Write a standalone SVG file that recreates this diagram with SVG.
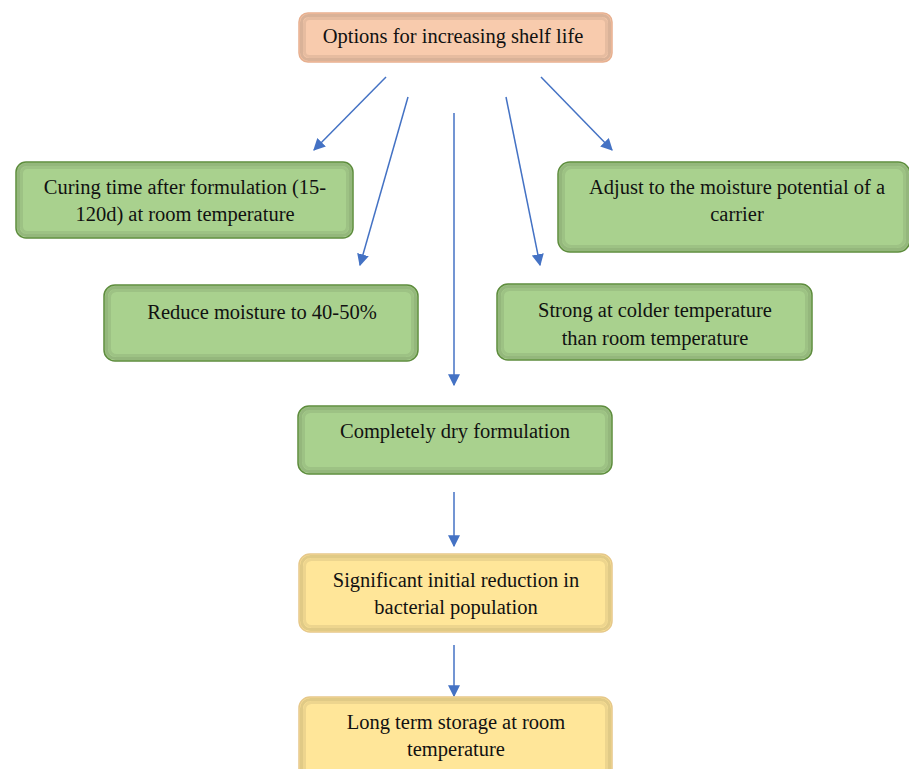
<svg xmlns="http://www.w3.org/2000/svg" width="909" height="769" viewBox="0 0 909 769">
<style>
text{font-family:'Liberation Serif','Times New Roman','DejaVu Serif',serif;font-size:20.5px;fill:#111;text-anchor:middle}
.g{fill:#A9D18E;stroke:#5E8C3E;stroke-width:1.5}
.p{fill:#F8CBAD;stroke:#E7B090;stroke-width:1.5}
.y{fill:#FFE699;stroke:#E6C88A;stroke-width:1.5}
.s1{fill:none;stroke:#000;stroke-opacity:0.12;stroke-width:3}
.s2{fill:none;stroke:#000;stroke-opacity:0.07;stroke-width:3}
.c{stroke:#4472C4;stroke-width:1.5;fill:none;marker-end:url(#ah)}
</style>
<defs>
<marker id="ah" viewBox="0 0 10 10" refX="9" refY="5" markerWidth="12" markerHeight="12" markerUnits="userSpaceOnUse" orient="auto">
<path d="M0,0 L10,5 L0,10 z" fill="#4472C4"/>
</marker>
</defs>
<rect width="909" height="769" fill="#fff"/>
<g id="connectors">
<line class="c" x1="386" y1="77" x2="314" y2="150"/>
<line class="c" x1="408" y1="97" x2="360" y2="265"/>
<line class="c" x1="454" y1="113" x2="454" y2="385"/>
<line class="c" x1="506" y1="97" x2="540" y2="265"/>
<line class="c" x1="541" y1="77" x2="612" y2="150"/>
<line class="c" x1="454" y1="492" x2="454" y2="546"/>
<line class="c" x1="454" y1="645" x2="454" y2="696"/>
</g>
<g id="n-top"><rect class="p" x="299" y="13" width="313" height="49" rx="9"/><rect class="s1" x="301.5" y="15.5" width="308" height="44" rx="7"/><rect class="s2" x="304.5" y="18.5" width="302" height="38" rx="5"/><text x="453" y="43">Options for increasing shelf life</text></g>
<g id="n-curing"><rect class="g" x="16" y="162" width="337" height="76" rx="10"/><rect class="s1" x="18.5" y="164.5" width="332" height="71" rx="8"/><rect class="s2" x="21.5" y="167.5" width="326" height="65" rx="6"/><text x="185" y="194">Curing time after formulation (15-</text><text x="185" y="221">120d) at room temperature</text></g>
<g id="n-adjust"><rect class="g" x="558" y="162" width="352" height="90" rx="12"/><rect class="s1" x="560.5" y="164.5" width="347" height="85" rx="10"/><rect class="s2" x="563.5" y="167.5" width="341" height="79" rx="8"/><text x="737" y="194">Adjust to the moisture potential of a</text><text x="737" y="221">carrier</text></g>
<g id="n-reduce"><rect class="g" x="104" y="285" width="314" height="76" rx="11"/><rect class="s1" x="106.5" y="287.5" width="309" height="71" rx="9"/><rect class="s2" x="109.5" y="290.5" width="303" height="65" rx="7"/><text x="262" y="319">Reduce moisture to 40-50%</text></g>
<g id="n-strong"><rect class="g" x="497" y="284" width="315" height="76" rx="11"/><rect class="s1" x="499.5" y="286.5" width="310" height="71" rx="9"/><rect class="s2" x="502.5" y="289.5" width="304" height="65" rx="7"/><text x="655" y="317">Strong at colder temperature</text><text x="655" y="345">than room temperature</text></g>
<g id="n-dry"><rect class="g" x="298" y="406" width="314" height="68" rx="11"/><rect class="s1" x="300.5" y="408.5" width="309" height="63" rx="9"/><rect class="s2" x="303.5" y="411.5" width="303" height="57" rx="7"/><text x="455" y="438">Completely dry formulation</text></g>
<g id="n-sig"><rect class="y" x="299" y="554" width="313" height="78" rx="11"/><rect class="s1" x="301.5" y="556.5" width="308" height="73" rx="9"/><rect class="s2" x="304.5" y="559.5" width="302" height="67" rx="7"/><text x="456" y="587">Significant initial reduction in</text><text x="456" y="614">bacterial population</text></g>
<g id="n-long"><rect class="y" x="299" y="697" width="313" height="90" rx="11"/><rect class="s1" x="301.5" y="699.5" width="308" height="85" rx="9"/><rect class="s2" x="304.5" y="702.5" width="302" height="79" rx="7"/><text x="456" y="729">Long term storage at room</text><text x="456" y="756">temperature</text></g>
</svg>
